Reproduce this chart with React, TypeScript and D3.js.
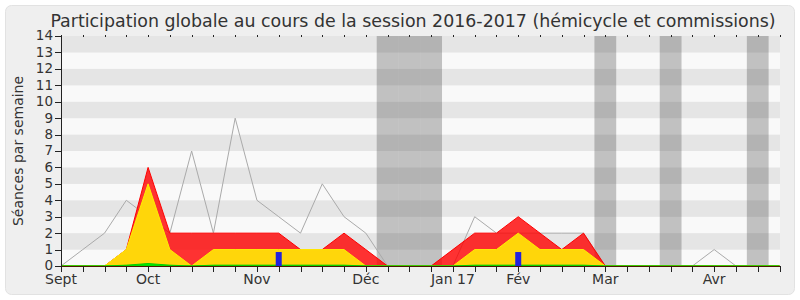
import React from "react";
import * as d3 from "d3";

const weeks = d3.range(34);
const medianLine = [0,1,2,4,3,2,7,2,9,4,3,2,5,3,2,0,0,0,0,3,2,2,2,2,2,0,0,0,0,0,1,0,0,0];
const redTotal = [0,0,0,1,6,2,2,2,2,2,2,1,1,2,1,0,0,0,1,2,2,3,2,1,2,0,0,0,0,0,0,0,0,0];
const yellowHemi = [0,0,0,1,5,1,0,1,1,1,1,1,1,1,0,0,0,0,0,1,1,2,1,1,1,0,0,0,0,0,0,0,0,0];
const greenInter = [0,0,0,0.05,0.15,0.05,0,0.05,0.05,0.05,0.05,0.05,0.05,0.05,0,0,0,0,0,0.05,0.05,0.05,0.05,0.05,0.05,0,0,0,0,0,0,0,0,0];
const blueQuestions = [0,0,0,0,0,0,0,0,0,0,0.85,0,0,0,0,0,0,0,0,0,0,0.85,0,0,0,0,0,0,0,0,0,0,0,0];
const vacationWeeks = [15,16,17,25,28,32];
const monthLabels = ["Sept","Oct","Nov","Déc","Jan 17","Fév","Mar","Avr"];
const monthWeeks = [0,4,9,14,18,21,25,30];
const yTicks = d3.range(0, 15);

const FONT = "'DejaVu Sans', Verdana, sans-serif";

export default function App() {
  const x = d3.scaleLinear().domain([0, 33]).range([61, 779.5]);
  const y = d3.scaleLinear().domain([0, 14]).range([266, 36]);
  const half = (x(1) - x(0)) / 2;

  const area = (vals: number[]) =>
    d3.area<number>().x((_, i) => x(i)).y0(y(0)).y1((d) => y(d))(vals) || "";
  const line = (vals: number[]) =>
    d3.line<number>().x((_, i) => x(i)).y((d) => y(d))(vals) || "";

  return (
    <svg width={800} height={300} style={{ position: "absolute", left: 0, top: 0, fontFamily: FONT }}>
      <rect x={0} y={0} width={800} height={300} fill="#ffffff" />
      <rect x={5.5} y={5.5} width={789} height={289} rx={6} fill="#efefef" stroke="#e2e2e2" strokeWidth={1} />
      {yTicks.slice(0, 14).map((v) => (
        <rect key={"s" + v} x={61} y={y(v + 1)} width={780 - 61} height={y(v) - y(v + 1)}
          fill={v % 2 === 1 ? "#e5e5e5" : "#f9f9f9"} />
      ))}
      {vacationWeeks.map((w) => (
        <rect key={"v" + w} x={x(w) - half} y={y(14)} width={half * 2} height={y(0) - y(14)}
          fill="rgba(50,50,50,0.28)" />
      ))}
      <path d={line(medianLine)} fill="none" stroke="#aaaaaa" strokeWidth={1} />
      <path d={area(redTotal)} fill="rgba(255,0,0,0.8)" stroke="#ff0000" strokeWidth={1} />
      <path d={area(yellowHemi)} fill="#ffd60a" stroke="#ffee00" strokeWidth={1} />
      <path d={area(greenInter)} fill="#00ee00" stroke="#00cc00" strokeWidth={1} />
      {blueQuestions.map((v, i) =>
        v > 0 ? (
          <rect key={"b" + i} x={x(i) - 3} y={y(v)} width={6} height={y(0) - y(v)} fill="#2222dd" />
        ) : null
      )}
      <line x1={61} x2={780} y1={266.5} y2={266.5} stroke="#4a1800" strokeWidth={1} />
      <line x1={61.5} x2={61.5} y1={36} y2={267} stroke="#222" strokeWidth={1} />
      {weeks.map((w) => (
        <g key={"t" + w}>
          <line x1={Math.round(x(w)) + 0.5} x2={Math.round(x(w)) + 0.5} y1={266} y2={272} stroke="#222" />
          <line x1={Math.round(x(w)) + 0.5} x2={Math.round(x(w)) + 0.5} y1={35} y2={37} stroke="#222" />
        </g>
      ))}
      {yTicks.map((v) => (
        <g key={"y" + v}>
          <line x1={55} x2={61} y1={Math.round(y(v)) + 0.5} y2={Math.round(y(v)) + 0.5} stroke="#222" />
          <text x={53} y={y(v) - 0.5} dy="0.36em" textAnchor="end" fontSize={13.5} fill="#333">{v}</text>
        </g>
      ))}
      {monthLabels.map((m, k) => (
        <text key={m} x={x(monthWeeks[k])} y={284} textAnchor="middle" fontSize={14} fill="#333">{m}</text>
      ))}
      <text transform={`translate(23,${y(7)}) rotate(-90)`} textAnchor="middle" fontSize={14} fill="#333">
        Séances par semaine
      </text>
      <text x={413} y={27} textAnchor="middle" fontSize={17.4} fill="#333">
        Participation globale au cours de la session 2016-2017 (hémicycle et commissions)
      </text>
    </svg>
  );
}
